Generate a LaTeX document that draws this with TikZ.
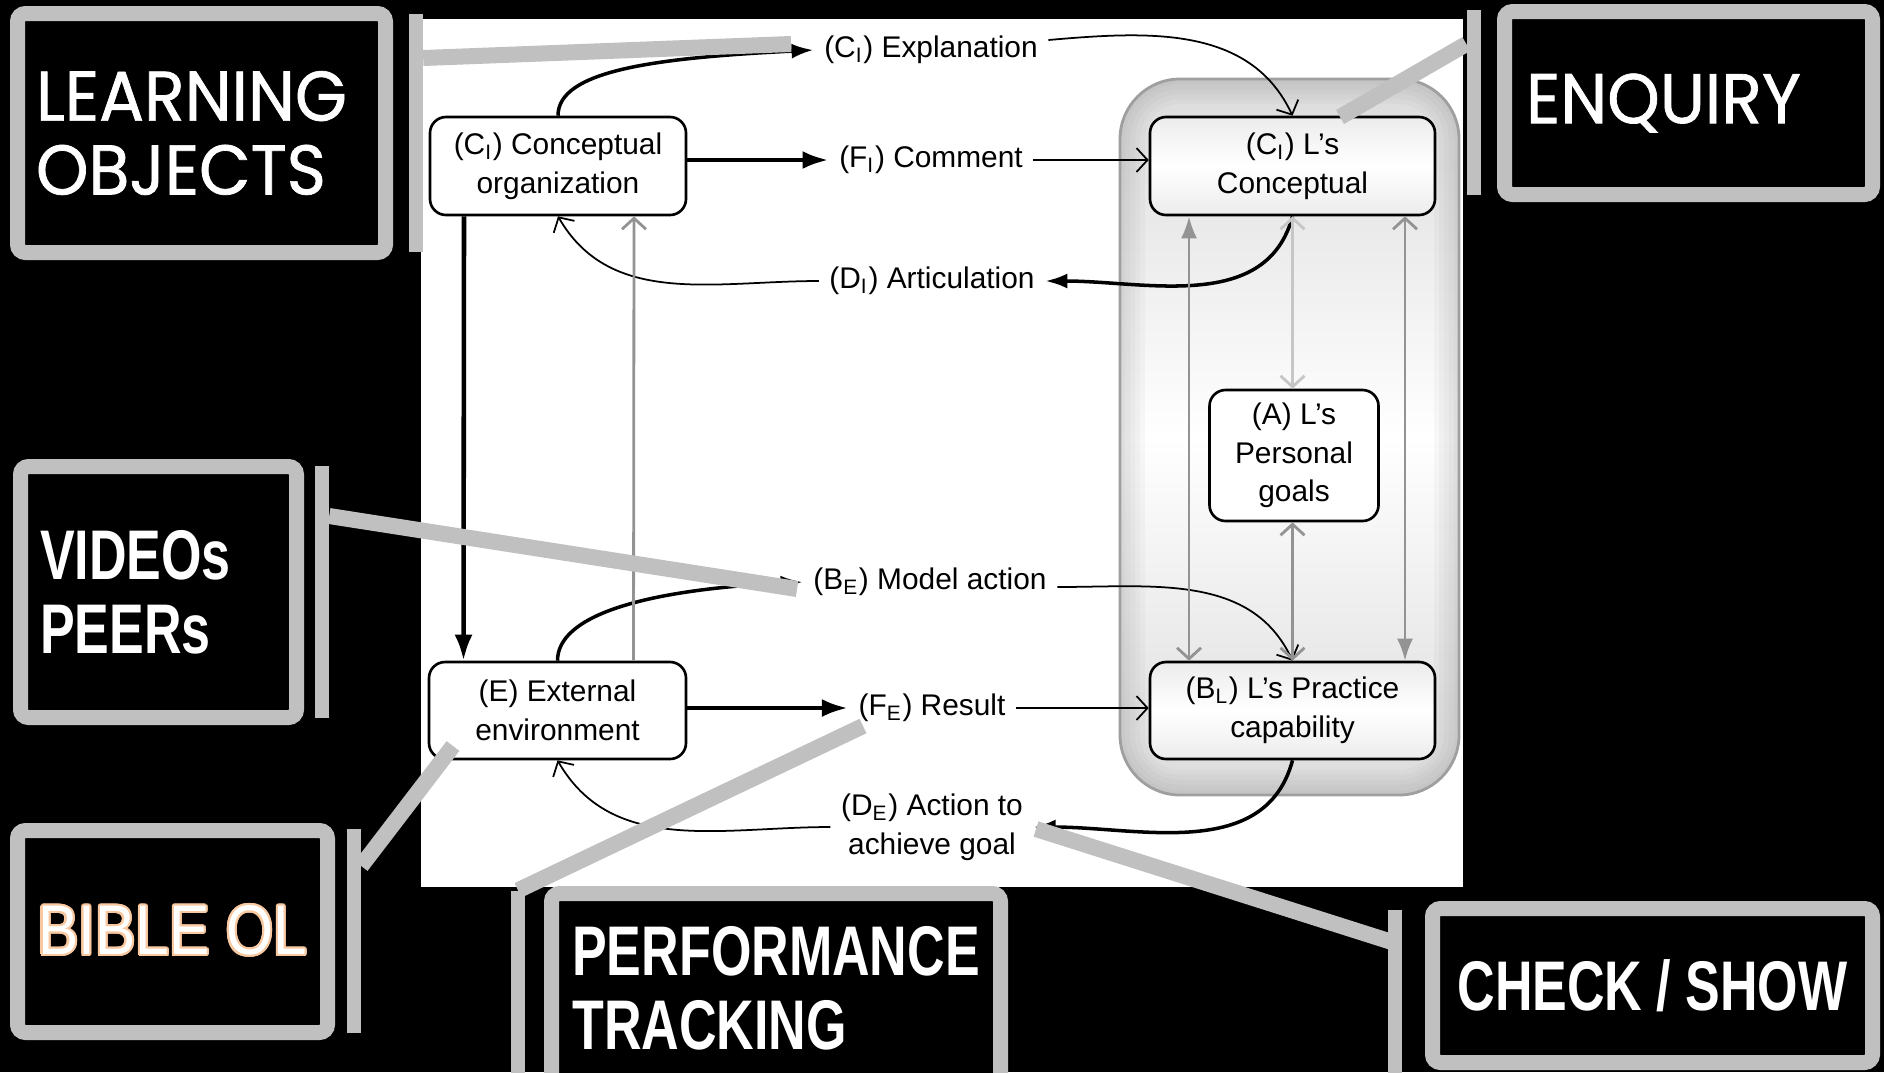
\documentclass[tikz,border=0pt]{standalone}
\usepackage{fontspec}
\setmainfont{Liberation Sans}
\newfontfamily\roundfont{Poppins}[FakeStretch=0.95, FakeBold=1]
\newfontfamily\narrowfont{Liberation Sans}[FakeStretch=0.74]
\newfontfamily\outlinefont{Liberation Sans}[FakeStretch=0.86]
\usepackage{contour}
\usetikzlibrary{arrows.meta}

\definecolor{callgrey}{RGB}{192,192,192}
\definecolor{peach}{RGB}{248,200,160}
\newcommand{\diagfont}{\fontsize{8.5}{11}\selectfont}
\newcommand{\bigfont}{\fontsize{20}{21}\selectfont}

\tikzset{
  stage/.style={draw, line width=0.75pt, rounded corners=1.6mm, align=center, font=\diagfont, inner sep=0pt},
  learner/.style={stage, top color=gray!15, bottom color=gray!15, middle color=white},
  flow/.style={inner sep=1mm, align=center, font=\diagfont},
  mainarrow/.style={line width=1.3pt, -{Latex[length=2.6mm,width=1.8mm]}},
  looparrow/.style={line width=1pt, -{Latex[length=2.2mm,width=1.5mm]}},
  backarrow/.style={line width=0.5pt, -{Straight Barb[length=1.1mm,width=2.4mm]}},
  greyline/.style={draw=gray!85, line width=0.8pt},
  callout/.style={draw=callgrey, fill=black, line width=1.5mm, rounded corners=0.8mm, text=white, inner sep=0pt},
  bar/.style={fill=callgrey, minimum width=1.4mm, inner sep=0pt},
  leader/.style={callgrey, line width=1.6mm}
}

\begin{document}
\begin{tikzpicture}[x=0.1mm, y=-0.1mm]
\clip (0,0) rectangle (1884,1072);
\fill[black] (0,0) rectangle (1884,1072);
\fill[white] (421,19) rectangle (1463,887);

% learner side
\shade[rounded corners=6mm, top color=gray!28, bottom color=gray!28, middle color=white] (1120,79) rectangle (1459,795);
\begin{scope}
\clip[rounded corners=6mm] (1120,79) rectangle (1459,795);
\foreach \w in {1,2,...,5}
  \draw[gray, opacity=0.05, line width=\w mm, rounded corners=6mm] (1120,79) rectangle (1459,795);
\end{scope}
\draw[gray!75, line width=0.8pt, rounded corners=6mm] (1120,79) rectangle (1459,795);

\node[stage, minimum width=25.6mm, minimum height=9.8mm] (corg) at (558,166) {(C\textsubscript{I}) Conceptual\\organization};
\node[stage, minimum width=25.7mm, minimum height=9.7mm] (env) at (557.5,710.5) {(E) External\\environment};
\node[learner, minimum width=28.5mm, minimum height=9.8mm] (lcon) at (1292.5,166) {(C\textsubscript{I}) L's\\Conceptual};
\node[stage, fill=white, minimum width=16.9mm, minimum height=13.1mm] (goal) at (1294,455.5) {(A) L's\\Personal\\goals};
\node[learner, minimum width=28.5mm, minimum height=9.7mm] (lprac) at (1292.5,710.5) {(B\textsubscript{L}) L's Practice\\capability};

\node[flow] (expl) at (931,50) {(C\textsubscript{I}) Explanation};
\node[flow] (comm) at (931,160) {(F\textsubscript{I}) Comment};
\node[flow] (artic) at (932,281) {(D\textsubscript{I}) Articulation};
\node[flow] (model) at (930,582) {(B\textsubscript{E}) Model action};
\node[flow] (res) at (932,708) {(F\textsubscript{E}) Result};
\node[flow] (act) at (932,827) {(D\textsubscript{E}) Action to\\achieve goal};

% upper loop
\draw[looparrow] (corg.north) .. controls +(0,-45) and +(-160,8) .. (expl.west);
\draw[backarrow] ([yshift=1mm]expl.east) to[out=5, in=115] (lcon.north);
\draw[mainarrow] (corg.east |- comm.west) -- (comm.west);
\draw[backarrow] (comm.east) -- (lcon.west |- comm.east);
\draw[looparrow] (lcon.south) to[out=-105, in=0] (artic.east);
\draw[backarrow] (artic.west) to[out=180, in=-60] (corg.south);

% lower loop
\draw[looparrow] (env.north) .. controls +(0,-45) and +(-160,8) .. (model.west);
\draw[backarrow] ([yshift=-0.5mm]model.east) to[out=0, in=115] (lprac.north);
\draw[mainarrow] (env.east |- res.west) -- (res.west);
\draw[backarrow] (res.east) -- (lprac.west |- res.east);
\draw[looparrow] (lprac.south) to[out=-105, in=0] (act.east);
\draw[backarrow] (act.west) to[out=180, in=-60] (env.south);

% verticals
\draw[mainarrow] ([xshift=-9.4mm]corg.south) -- ([xshift=-9.4mm]env.north);
\draw[greyline, -{Straight Barb[length=1.1mm,width=2.4mm]}] ([xshift=7.6mm]env.north) -- ([xshift=7.6mm]corg.south);
\draw[greyline, {Latex[length=2.2mm,width=1.6mm]}-{Straight Barb[length=1.1mm,width=2.4mm]}] ([xshift=-10.35mm]lcon.south) -- ([xshift=-10.35mm]lprac.north);
\draw[greyline, draw=gray!45, {Straight Barb[length=1.1mm,width=2.4mm]}-{Straight Barb[length=1.1mm,width=2.4mm]}] (lcon.south) -- (lcon.south |- goal.north);
\draw[greyline, {Straight Barb[length=1.1mm,width=2.4mm]}-{Straight Barb[length=1.1mm,width=2.4mm]}] (lprac.north |- goal.south) -- (lprac.north);
\draw[greyline, {Straight Barb[length=1.1mm,width=2.4mm]}-{Latex[length=2.2mm,width=1.6mm]}] ([xshift=11.25mm]lcon.south) -- ([xshift=11.25mm]lprac.north);

% callouts
\node[callout, minimum width=36.8mm, minimum height=23.9mm, text width=33.1mm, align=left, font=\roundfont\bigfont] (lobj) at (201.5,133) {LEARNING\\OBJECTS};
\node[callout, minimum width=36.8mm, minimum height=18.3mm, text width=32.5mm, align=left, font=\roundfont\bigfont] (enq) at (1688.5,103) {ENQUIRY};
\node[callout, minimum width=27.6mm, minimum height=25.1mm, text width=23.7mm, align=left, font=\narrowfont\bfseries\bigfont] (vid) at (158.5,592) {VIDEOs\\PEERs};
\node[callout, minimum width=31mm, minimum height=20.2mm, font=\outlinefont\bigfont] (bible) at (172.5,931.5) {\contour{peach}{BIBLE OL}};
\node[callout, minimum width=44.9mm, minimum height=18.9mm, align=left, font=\narrowfont\bfseries\bigfont] (perf) at (776,988) {PERFORMANCE\\TRACKING};
\node[callout, minimum width=44mm, minimum height=15.4mm, font=\narrowfont\bfseries\bigfont] (chk) at (1652.5,985.5) {CHECK / SHOW};

\node[bar, minimum height=23.8mm] (lobar) at (415.5,133) {};
\node[bar, minimum height=18.5mm] (enqbar) at (1474,102.5) {};
\node[bar, minimum height=25.2mm] (vidbar) at (321.5,592) {};
\node[bar, minimum height=20.4mm] (biblebar) at (353.5,931) {};
\node[bar, minimum height=20mm] (perfbar) at (518,991) {};
\node[bar, minimum height=17mm] (chkbar) at (1395,995) {};

\coordinate (loend) at (791,44);
\coordinate (enqend) at (1340,117);
\coordinate (vidend) at (797,589);
\coordinate (bibleend) at (453,746);
\coordinate (perfend) at (863,726);
\coordinate (chkend) at (1036,829);

\draw[leader] (lobar.east |- 0,58) -- (loend);
\draw[leader] (enqbar.west |- 0,44) -- (enqend);
\draw[leader] (vidbar.east |- 0,516) -- (vidend);
\draw[leader] (biblebar.east |- 0,866) -- (bibleend);
\draw[leader] (perfbar.north) -- (perfend);
\draw[leader] (chkbar.center |- 0,943) -- (chkend);
\end{tikzpicture}
\end{document}
